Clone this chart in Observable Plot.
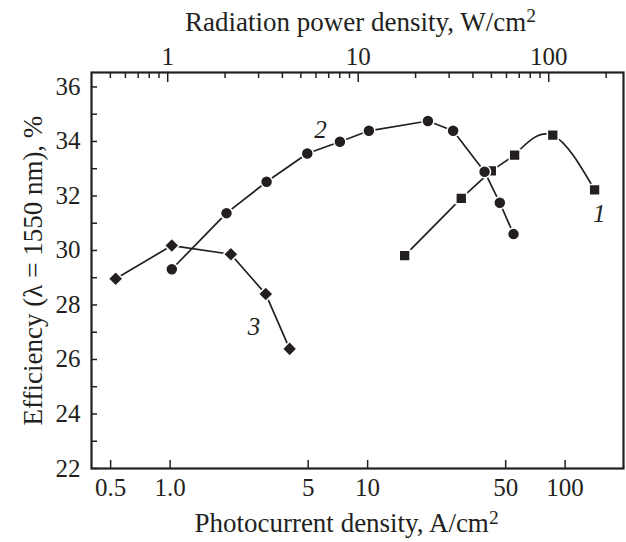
<!DOCTYPE html>
<html><head><meta charset="utf-8">
<script src="https://cdn.jsdelivr.net/npm/d3@7"></script>
<script src="https://cdn.jsdelivr.net/npm/@observablehq/plot@0.6"></script>
<style>body{margin:0;background:#fff} svg{display:block}</style>
</head><body><div id="chart"></div>
<script>
// Curve 1 (squares)
const s1J = [15.4, 29.8, 42.3, 55.5, 86.6, 141];
const s1E = [29.81, 31.91, 32.92, 33.5, 34.23, 32.22];
// Curve 2 (circles)
const s2J = [1.02, 1.93, 3.08, 4.95, 7.24, 10.15, 20.2, 27.1, 39.1, 46.7, 54.8];
const s2E = [29.31, 31.37, 32.52, 33.56, 33.99, 34.39, 34.75, 34.39, 32.89, 31.75, 30.6];
// Curve 3 (diamonds)
const s3J = [0.53, 1.02, 2.03, 3.05, 4.03];
const s3E = [28.96, 30.18, 29.86, 28.40, 26.39];

const curveLabels = ["1", "2", "3"];
const curveLabelJ = [149, 5.78, 2.66];
const curveLabelE = [31.33, 34.41, 27.19];

const yMajor = [22, 24, 26, 28, 30, 32, 34, 36];
const yAllTicks = [22, 23, 24, 25, 26, 27, 28, 29, 30, 31, 32, 33, 34, 35, 36];
const xTicks = [0.5, 1, 5, 10, 50, 100];
const xTickLabels = ["0.5", "1.0", "5", "10", "50", "100"];
const topMajor = [1, 10, 100];
const topMinor = [0.5, 0.6, 0.7, 0.8, 0.9, 2, 3, 4, 5, 6, 7, 8, 9, 20, 30, 40, 50, 60, 70, 80, 90, 200];

const xTitle = "Photocurrent density, A/cm2";
const topTitle = "Radiation power density, W/cm2";
const yTitle = "Efficiency (\u03bb = 1550 nm), %";

// top axis (W/cm2) expressed on the bottom (A/cm2) log scale
const topOffset = -0.01215, topSlope = 0.9646;
const toJ = p => Math.pow(10, topOffset + topSlope * Math.log10(p));

const W = 626, H = 542, mL = 91, mR = 3, mT = 72, mB = 74;
const frameW = W - mL - mR, frameH = H - mT - mB;
const ink = "#231f20";
const rows = (J, E) => J.map((x, i) => ({x, y: E[i]}));

const d1 = rows(s1J, s1E), d2 = rows(s2J, s2E), d3r = rows(s3J, s3E);
const labs = curveLabels.map((t, i) => ({t, x: curveLabelJ[i], y: curveLabelE[i]}));

const chart = Plot.plot({
  width: W, height: H,
  marginLeft: mL, marginRight: mR, marginTop: mT, marginBottom: mB,
  style: {fontFamily: "Liberation Serif", fontSize: "25px", color: ink, background: "white", overflow: "visible"},
  x: {type: "log", domain: [0.4, 197.5], axis: null},
  y: {domain: [22, 36.53], axis: null},
  marks: [
    Plot.ruleX(xTicks, {x: d => d, insetTop: frameH - 8, stroke: ink, strokeWidth: 1.5}),
    Plot.ruleX(topMajor.map(toJ), {x: d => d, insetBottom: frameH - 10, stroke: ink, strokeWidth: 1.5}),
    Plot.ruleX(topMinor.map(toJ), {x: d => d, insetBottom: frameH - 6, stroke: ink, strokeWidth: 1.5}),
    Plot.ruleY(yAllTicks, {y: d => d, insetRight: frameW - 6, stroke: ink, strokeWidth: 1.5}),
    Plot.frame({stroke: ink, strokeWidth: 2.2}),
    Plot.text(xTicks, {x: d => d, text: (d, i) => xTickLabels[i], frameAnchor: "bottom", lineAnchor: "top", dy: 10, fill: ink}),
    Plot.text(topMajor, {x: d => toJ(d), text: d => String(d), frameAnchor: "top", lineAnchor: "bottom", dy: -8, fill: ink}),
    Plot.text(yMajor, {y: d => d, text: d => String(d), frameAnchor: "left", textAnchor: "end", dx: -11, fill: ink}),
    Plot.text([xTitle], {frameAnchor: "bottom", lineAnchor: "top", dy: 44, dx: -11, fill: ink, fontSize: 27}),
    Plot.text([topTitle], {frameAnchor: "top", lineAnchor: "bottom", dy: -42, dx: 3, fill: ink, fontSize: 27}),
    Plot.text([yTitle], {frameAnchor: "left", textAnchor: "middle", rotate: -90, dx: -58, fill: ink, fontSize: 27}),
    Plot.line(d1.slice(0, 4), {x: "x", y: "y", stroke: ink, strokeWidth: 1.7}),
    Plot.line(d1.slice(3), {x: "x", y: "y", stroke: ink, strokeWidth: 1.7, curve: "natural"}),
    Plot.line(d2, {x: "x", y: "y", stroke: ink, strokeWidth: 1.7}),
    Plot.line(d3r, {x: "x", y: "y", stroke: ink, strokeWidth: 1.7}),
    Plot.dot(d1, {x: "x", y: "y", symbol: "square", r: 6.1, fill: ink, stroke: "white", strokeWidth: 1.5}),
    Plot.dot(d2, {x: "x", y: "y", symbol: "circle", r: 6, fill: ink, stroke: "white", strokeWidth: 1.5}),
    Plot.dot(d3r, {x: "x", y: "y", symbol: "diamond2", r: 6.6, fill: ink, stroke: "white", strokeWidth: 1.5}),
    Plot.text(labs, {x: "x", y: "y", text: "t", fontStyle: "italic", fill: ink})
  ]
});

// superscripts for units
d3.select(chart).selectAll("text").each(function () {
  const el = this;
  if (el.childElementCount === 0 && el.textContent.endsWith("cm2")) {
    const base = el.textContent.slice(0, -1);
    el.textContent = base;
    d3.select(el).append("tspan").attr("dy", "-0.42em").attr("font-size", "0.72em").text("2");
  }
});
document.getElementById("chart").appendChild(chart);
</script>
</body></html>
